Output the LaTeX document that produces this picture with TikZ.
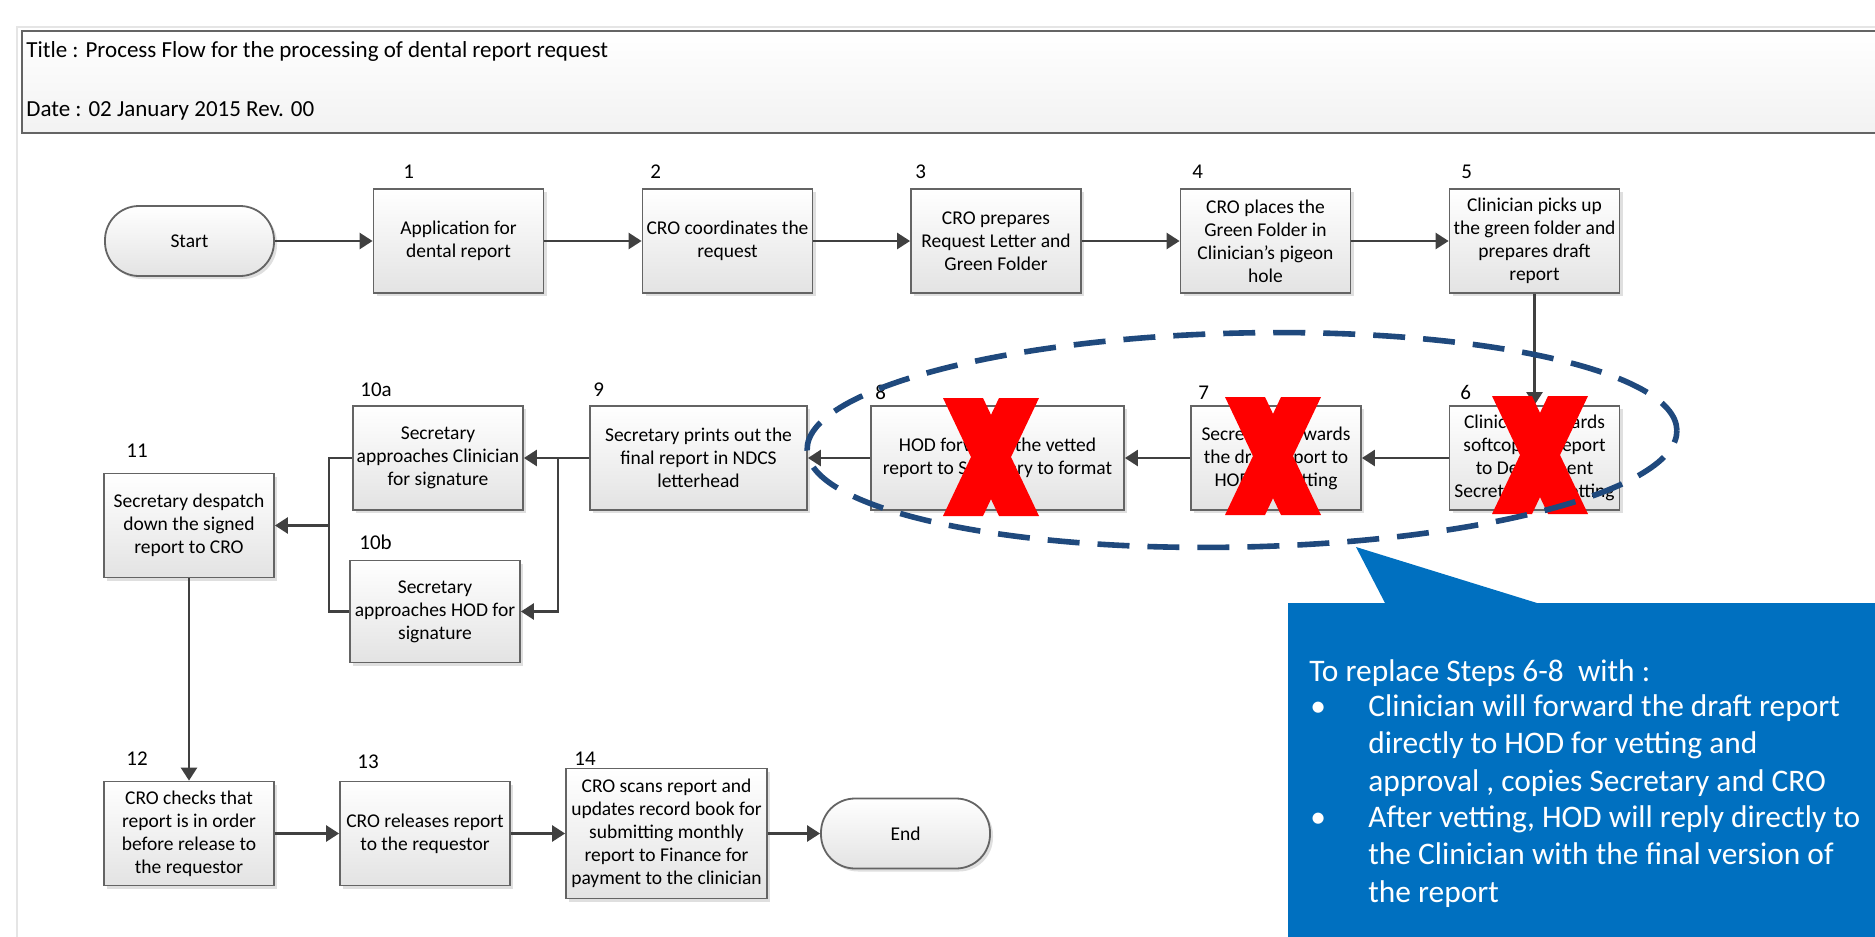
\documentclass[tikz,border=0pt]{standalone}
\usepackage{fontspec}
\setmainfont{Carlito}
\usepackage{xcolor}
\definecolor{boxline}{RGB}{100,100,100}
\definecolor{arrowgray}{RGB}{64,64,64}
\definecolor{ringblue}{RGB}{31,73,125}
\definecolor{noteblue}{RGB}{0,112,192}
\definecolor{crossred}{RGB}{255,0,0}
\usetikzlibrary{arrows.meta,shadows}

\tikzset{
  procbox/.style={draw=boxline, line width=0.9pt, top color=white, bottom color=gray!22,
    minimum width=85pt, minimum height=52pt, inner sep=1pt, align=center,
    font=\fontsize{9.75}{11.5}\selectfont,
    drop shadow={shadow xshift=1.5pt, shadow yshift=-1.5pt, opacity=0.25}},
  termbox/.style={procbox, rounded corners=17pt, minimum width=84.5pt, minimum height=35pt},
  steplabel/.style={anchor=base west, inner sep=0pt, font=\fontsize{10.5}{12}\selectfont},
  flowline/.style={draw=arrowgray, line width=1.3pt},
  flowarrow/.style={flowline, -{Triangle[length=6.5pt,width=8pt]}},
  notetext/.style={anchor=base west, inner sep=0pt, text=white, font=\fontsize{15.7}{18.5}\selectfont},
}

\begin{document}
\begin{tikzpicture}[x=0.5pt, y=-0.5pt]
    \useasboundingbox (0,0) rectangle (1875,937);

    % Page frame and title block
    \draw[gray!20, line width=1pt] (1875,27) -- (17,27) -- (17,937);
    \shade[top color=white, bottom color=gray!10] (22,31) rectangle (1875,133);
    \draw[boxline, line width=1pt] (1875,31) -- (22,31) -- (22,133) -- (1875,133);
    \node[anchor=base west, inner sep=0pt, font=\fontsize{11.5}{14}\selectfont] (title) at (26,57)
        {Title : Process Flow for the processing of dental report request};
    \node[anchor=base west, inner sep=0pt, font=\fontsize{11.5}{14}\selectfont] (date) at (26,116)
        {Date : 02 January 2015 Rev. 00};

    % Row 1: steps 1 to 5
    \node[termbox] (start) at (189.5,241) {Start};
    \node[procbox] (b1) at (458.5,241) {Application for\\dental report};
    \node[procbox] (b2) at (727.5,241) {CRO coordinates the\\request};
    \node[procbox] (b3) at (996,241) {CRO prepares\\Request Letter and\\Green Folder};
    \node[procbox] (b4) at (1265.5,241) {CRO places the\\Green Folder in\\Clinician’s pigeon\\hole};
    \node[procbox] (b5) at (1534.5,241) {Clinician picks up\\the green folder and\\prepares draft\\report};

    % Row 2: steps 6 to 11
    \node[procbox] (b6) at (1534.5,458) {Clinician forwards\\softcopy of report\\to Department\\Secretary for vetting};
    \node[procbox] (b7) at (1276,458) {Secretary forwards\\the draft report to\\HOD for vetting};
    \node[procbox, minimum width=126.5pt] (b8) at (997.5,458) {HOD forwards the vetted\\report to Secretary to format};
    \node[procbox, minimum width=108.5pt] (b9) at (698.5,458) {Secretary prints out the\\final report in NDCS\\letterhead};
    \node[procbox] (b10a) at (438,458) {Secretary\\approaches Clinician\\for signature};
    \node[procbox, minimum height=51pt] (b10b) at (435,611.5) {Secretary\\approaches HOD for\\signature};
    \node[procbox] (b11) at (189,525.5) {Secretary despatch\\down the signed\\report to CRO};

    % Row 3: steps 12 to 14
    \node[procbox] (b12) at (189,833.5) {CRO checks that\\report is in order\\before release to\\the requestor};
    \node[procbox] (b13) at (425,833.5) {CRO releases report\\to the requestor};
    \node[procbox, minimum width=100.5pt, minimum height=65pt] (b14) at (666.5,833.5)
        {CRO scans report and\\updates record book for\\submitting monthly\\report to Finance for\\payment to the clinician};
    \node[termbox] (end) at (905.5,833.5) {End};

    % Step numbers
    \node[steplabel] (n1) at (403,178) {1};
    \node[steplabel] (n2) at (650,178) {2};
    \node[steplabel] (n3) at (915,178) {3};
    \node[steplabel] (n4) at (1192,178) {4};
    \node[steplabel] (n5) at (1461,178) {5};
    \node[steplabel] (n6) at (1460,399) {6};
    \node[steplabel] (n7) at (1198,399) {7};
    \node[steplabel] (n8) at (875,399) {8};
    \node[steplabel] (n9) at (593,396) {9};
    \node[steplabel] (n10a) at (360,396) {10a};
    \node[steplabel] (n10b) at (359,549) {10b};
    \node[steplabel] (n11) at (126,457) {11};
    \node[steplabel] (n12) at (126,765) {12};
    \node[steplabel] (n13) at (357,768) {13};
    \node[steplabel] (n14) at (574,765) {14};

    % Connectors
    \draw[flowarrow] (start) -- (b1);
    \foreach \from/\to in {b1/b2, b2/b3, b3/b4, b4/b5, b5/b6, b6/b7, b7/b8, b8/b9, b9/b10a, b11/b12, b12/b13, b13/b14, b14/end}
        \draw[flowarrow] (\from) -- (\to);
    \coordinate (fork9) at (558,458);
    \draw[flowarrow] (fork9) |- (b10b);
    \coordinate (join10) at (329,525.5);
    \draw[flowline] (b10a.west) -| (join10);
    \draw[flowline] (b10b.west) -| (join10);
    \draw[flowarrow] (join10) -- (b11);

    % Red crosses over steps 6-8
    \foreach \cx/\cy in {991/457, 1273/456, 1540/455} {
        \fill[crossred] (\cx-48,\cy-59) -- (\cx-8,\cy-59) -- (\cx+48,\cy+59) -- (\cx+8,\cy+59) -- cycle;
        \fill[crossred] (\cx+48,\cy-59) -- (\cx+8,\cy-59) -- (\cx-48,\cy+59) -- (\cx-8,\cy+59) -- cycle;
    }

    % Dashed ring round steps 6-8
    \draw[ringblue, line width=2.8pt, dash pattern=on 16pt off 9pt, rotate around={1.3:(1242,440)}]
        (1242,440) ellipse [x radius=217.5pt, y radius=53.5pt];

    % Callout
    \fill[noteblue] (1288,603) -- (1385,603) -- (1356,547) -- (1537,603) -- (1875,603) -- (1875,937) -- (1288,937) -- cycle;
    \node[notetext] (notehead) at (1309,681) {To replace Steps 6-8\ \ with :};
    \node[notetext] (dot1) at (1310,716) {\textbullet};
    \node[notetext] (dot2) at (1310,827) {\textbullet};
    \node[notetext] (line1) at (1368,716) {Clinician will forward the draft report};
    \node[notetext] (line2) at (1368,753) {directly to HOD for vetting and};
    \node[notetext] (line3) at (1368,791) {approval , copies Secretary and CRO};
    \node[notetext] (line4) at (1368,827) {After vetting, HOD will reply directly to};
    \node[notetext] (line5) at (1368,864) {the Clinician with the final version of};
    \node[notetext] (line6) at (1368,902) {the report};
\end{tikzpicture}
\end{document}
